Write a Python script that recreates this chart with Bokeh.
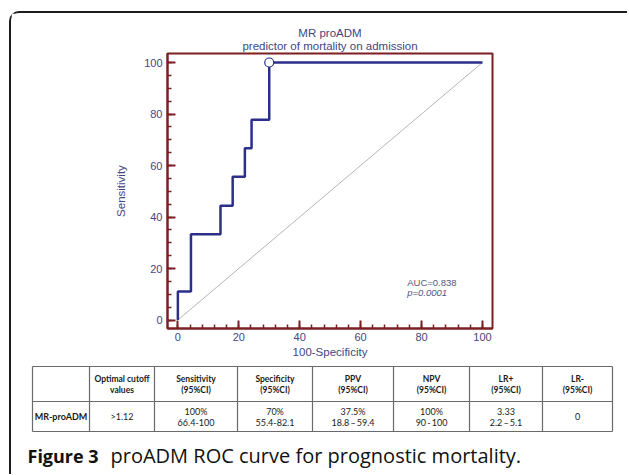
from bokeh.plotting import figure
from bokeh.models import Range1d, SingleIntervalTicker, Label, Title
from bokeh.layouts import column
from bokeh.embed import file_html
from bokeh.resources import INLINE
from bokeh.core.properties import value

# ---------------- data ----------------
# ROC curve vertices (100-Specificity, Sensitivity)
roc_fpr = [0, 0, 4.3, 14.0, 18.0, 22.0, 24.2, 30.0, 100]
roc_tpr = [0, 11.1, 33.3, 44.4, 55.6, 66.7, 77.8, 100, 100]
cutoff_fpr = [30.0]
cutoff_tpr = [100.0]
diag_x = [0, 100]
diag_y = [0, 100]
auc_text = "AUC=0.838"
p_text = "p=0.0001"
title_line1 = "MR proADM"
title_line2 = "predictor of mortality on admission"

header_line1 = ["", "Optimal cutoff", "Sensitivity", "Specificity", "PPV", "NPV", "LR+", "LR-"]
header_line2 = ["", "values", "(95%CI)", "(95%CI)", "(95%CI)", "(95%CI)", "(95%CI)", "(95%CI)"]
row_line1 = ["MR-proADM", ">1.12", "100%", "70%", "37.5%", "100%", "3.33", "0"]
row_line2 = ["", "", "66.4-100", "55.4-82.1", "18.8\u2009\u2013\u200959.4", "90\u2009-\u2009100", "2.2\u2009\u2013\u20095.1", ""]
caption_bold = "Figure 3"
caption_text = "proADM ROC curve for prognostic mortality."

# ---------------- styles ----------------
MAROON = "#7a1f22"
NAVY = "#2b2f8a"
LABEL_C = "#45457f"
FONT = "Liberation Sans"

W = 616

# ---------------- ROC figure ----------------
p = figure(width=W, height=347,
           x_range=Range1d(-3.4, 103.3), y_range=Range1d(-3.3, 103.5),
           min_border_left=156, min_border_right=W - 156 - 325,
           min_border_top=40, min_border_bottom=32,
           toolbar_location=None, output_backend="svg")
p.frame_align = False
p.grid.visible = False
p.outline_line_color = MAROON
p.outline_line_width = 2
p.outline_line_alpha = 1.0
p.background_fill_color = "white"
p.border_fill_color = "white"

p.xaxis.ticker = SingleIntervalTicker(interval=20, num_minor_ticks=5)
p.yaxis.ticker = SingleIntervalTicker(interval=20, num_minor_ticks=4)
for ax in (p.xaxis[0], p.yaxis[0]):
    ax.axis_line_color = MAROON
    ax.axis_line_width = 2
    ax.major_tick_line_color = MAROON
    ax.major_tick_line_width = 2
    ax.minor_tick_line_color = MAROON
    ax.minor_tick_line_width = 1.5
    ax.major_tick_in = 8
    ax.major_tick_out = 0
    ax.minor_tick_in = 4
    ax.minor_tick_out = 0
    ax.major_label_text_font = FONT
    ax.major_label_text_font_size = "11px"
    ax.major_label_text_color = LABEL_C
    ax.axis_label_text_font = FONT
    ax.axis_label_text_font_size = "11.5px"
    ax.axis_label_text_font_style = "normal"
    ax.axis_label_text_color = LABEL_C
p.xaxis.axis_label = "100-Specificity"
p.yaxis.axis_label = "Sensitivity"
p.xaxis.major_label_standoff = 4
p.yaxis.major_label_standoff = 5
p.xaxis.axis_label_standoff = 2
p.yaxis.axis_label_standoff = 14

# two-line title, centred over the frame (nearest line added first)
p.add_layout(Title(text=title_line2, align="center", text_font=FONT, text_font_size="11.5px",
                   text_font_style="normal", text_color=LABEL_C, standoff=4), "above")
p.add_layout(Title(text=title_line1, align="center", text_font=FONT, text_font_size="11.5px",
                   text_font_style="normal", text_color=LABEL_C, standoff=-6), "above")

# diagonal reference
p.line(diag_x, diag_y, line_color="#b5b5b5", line_width=1)

# step path built from ROC vertices
sx, sy = [roc_fpr[0]], [roc_tpr[0]]
for i in range(1, len(roc_fpr)):
    sx += [roc_fpr[i], roc_fpr[i]]
    sy += [roc_tpr[i - 1], roc_tpr[i]]
p.line(sx, sy, line_color=NAVY, line_width=2.5)
p.scatter(cutoff_fpr, cutoff_tpr, size=9, fill_color="white", line_color=NAVY, line_width=1.2)

p.add_layout(Label(x=75.3, y=14.7, text=auc_text, text_font=FONT, text_font_size="9.5px",
                   text_baseline="middle", text_color="#55557a"))
p.add_layout(Label(x=75.3, y=10.6, text=p_text, text_font=FONT, text_font_size="9.5px",
                   text_font_style="italic", text_baseline="middle", text_color="#55557a"))

# ---------------- table + caption figure ----------------
TH = 114
t = figure(width=W, height=TH, x_range=Range1d(0, W), y_range=Range1d(TH, 0),
           min_border=0, toolbar_location=None, output_backend="svg")
t.frame_align = False
t.axis.visible = False
t.grid.visible = False
t.outline_line_color = None
t.background_fill_color = "white"
t.border_fill_color = "white"

col_edges = [21, 78, 143, 226, 301, 382, 458, 531, 601]
row_edges = [6, 41, 71]
t.segment(x0=col_edges, y0=[row_edges[0]] * len(col_edges), x1=col_edges,
          y1=[row_edges[-1]] * len(col_edges), line_color="#6a6a6a", line_width=1.2)
t.segment(x0=[col_edges[0]] * len(row_edges), y0=row_edges, x1=[col_edges[-1]] * len(row_edges),
          y1=row_edges, line_color="#6a6a6a", line_width=1.2)

centers = [(col_edges[i] + col_edges[i + 1]) / 2 for i in range(len(col_edges) - 1)]
hdr_mid = (row_edges[0] + row_edges[1]) / 2
row_mid = (row_edges[1] + row_edges[2]) / 2

TFONT = value("Lato")
t.text(x=centers, y=[hdr_mid - 5.5] * len(centers), text=header_line1, text_font=TFONT,
       text_font_size="8.5px", text_font_style="bold", text_align="center",
       text_baseline="middle", text_color="#1a1a1a")
t.text(x=centers, y=[hdr_mid + 6] * len(centers), text=header_line2, text_font=TFONT,
       text_font_size="8.5px", text_font_style="bold", text_align="center",
       text_baseline="middle", text_color="#1a1a1a")

two_line = [s != "" for s in row_line2]
y1 = [row_mid - 5.5 if tl else row_mid for tl in two_line]
styles = ["bold" if i == 0 else "normal" for i in range(len(row_line1))]
t.text(x=centers, y=y1, text=row_line1, text_font=TFONT, text_font_size="9px",
       text_font_style=styles, text_align="center", text_baseline="middle", text_color="#1a1a1a")
t.text(x=centers, y=[row_mid + 5.5] * len(centers), text=row_line2, text_font=TFONT,
       text_font_size="9px", text_align="center", text_baseline="middle", text_color="#1a1a1a")

t.text(x=[16], y=[95], text=[caption_bold], text_font=value("Open Sans"), text_font_size="18px",
       text_font_style="bold", text_baseline="middle", text_color="#111111")
t.text(x=[99], y=[95], text=[caption_text], text_font=value("Open Sans"), text_font_size="20px",
       text_baseline="middle", text_color="#111111")

layout = column(p, t, margin=(11, 0, 0, 9),
                styles={"border-left": "2px solid #1c1c1c", "border-top": "2px solid #1c1c1c",
                        "border-top-left-radius": "10px"})

open("out.html", "w").write(file_html(layout, INLINE))
